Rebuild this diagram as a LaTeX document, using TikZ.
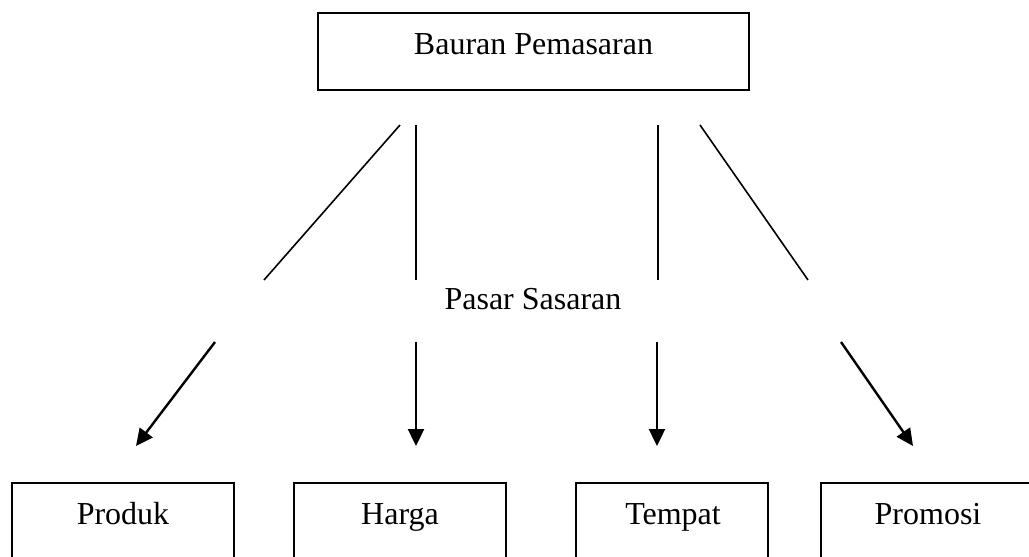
\documentclass[tikz,border=0pt]{standalone}
\usepackage{fontspec}
\setmainfont{Liberation Serif}
\usetikzlibrary{arrows.meta}
\begin{document}
\begin{tikzpicture}[x=1pt,y=-1pt,
  box/.style={draw=black,line width=1.8pt,rectangle,inner sep=0pt},
  lbl/.style={anchor=base,inner sep=0pt,font=\fontsize{32}{38}\selectfont},
  thin/.style={line width=1.6pt},
  arr/.style={line width=2.4pt,-{Triangle[length=17pt,width=16pt]}}]
\clip (0,0) rectangle (1029,557);
\fill[white] (0,0) rectangle (1029,557);
% top box
\node[box,minimum width=431pt,minimum height=77pt] (top) at (533.5,51.5) {};
\node[lbl] (toptxt) at (533.5,54) {Bauran Pemasaran};
% middle label
\node[lbl] (ps) at (533,309) {Pasar Sasaran};
% bottom boxes
\node[box,minimum width=222pt,minimum height=150pt] (produk) at (123,558) {};
\node[box,minimum width=212pt,minimum height=150pt] (harga) at (400,558) {};
\node[box,minimum width=192pt,minimum height=150pt] (tempat) at (672,558) {};
\node[box,minimum width=214pt,minimum height=150pt] (promosi) at (928,558) {};
\node[lbl] (produktxt) at (123,524) {Produk};
\node[lbl] (hargatxt) at (400,524) {Harga};
\node[lbl] (tempattxt) at (673,524) {Tempat};
\node[lbl] (promositxt) at (928,524) {Promosi};
% upper line coordinates
\coordinate (u1a) at (400,125); \coordinate (u1b) at (264,280);
\coordinate (u2a) at (416,125); \coordinate (u2b) at (416,280);
\coordinate (u3a) at (658,125); \coordinate (u3b) at (658,280);
\coordinate (u4a) at (700,125); \coordinate (u4b) at (808,280);
\draw[thin] (u1a) -- (u1b);
\draw[thin] (u2a) -- (u2b);
\draw[thin] (u3a) -- (u3b);
\draw[thin] (u4a) -- (u4b);
% lower arrows
\coordinate (l1a) at (215,342); \coordinate (l1b) at (136,446);
\coordinate (l2a) at (416,342); \coordinate (l2b) at (416,446);
\coordinate (l3a) at (657,342); \coordinate (l3b) at (657,446);
\coordinate (l4a) at (841,342); \coordinate (l4b) at (913,446);
\draw[arr] (l1a) -- (l1b);
\draw[arr] (l2a) -- (l2b);
\draw[arr] (l3a) -- (l3b);
\draw[arr] (l4a) -- (l4b);
\end{tikzpicture}
\end{document}
